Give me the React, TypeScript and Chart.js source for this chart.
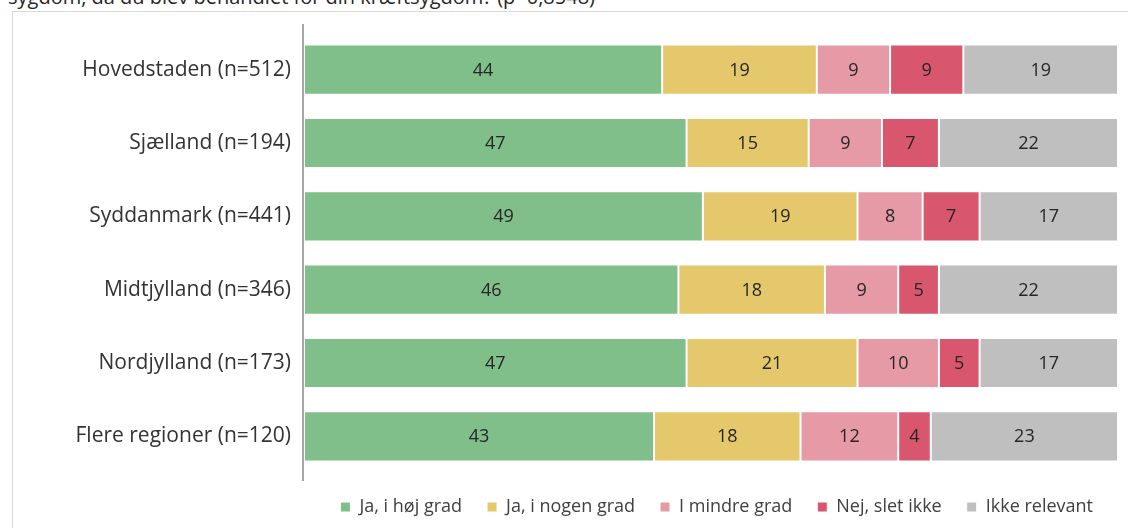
import React, { useEffect, useRef } from "react";
import { Chart, registerables } from "chart.js";

Chart.register(...registerables);

const titleText = "sygdom, da du blev behandlet for din kræftsygdom? (p=0,8548)";
const categories = [
  "Hovedstaden (n=512)",
  "Sjælland (n=194)",
  "Syddanmark (n=441)",
  "Midtjylland (n=346)",
  "Nordjylland (n=173)",
  "Flere regioner (n=120)",
];
const seriesNames = ["Ja, i høj grad", "Ja, i nogen grad", "I mindre grad", "Nej, slet ikke", "Ikke relevant"];
const jaHoej = [44, 47, 49, 46, 47, 43];
const jaNogen = [19, 15, 19, 18, 21, 18];
const mindre = [9, 9, 8, 9, 10, 12];
const nejSlet = [9, 7, 7, 5, 5, 4];
const ikkeRelevant = [19, 22, 17, 22, 17, 23];
const seriesValues = [jaHoej, jaNogen, mindre, nejSlet, ikkeRelevant];
const seriesColors = ["#80bf89", "#e5c76c", "#e59aa6", "#d9566f", "#bfbfbf"];

const FONT = "'Open Sans', 'Noto Sans', sans-serif";

const valueLabels = {
  id: "valueLabels",
  afterDatasetsDraw(chart: any) {
    const ctx = chart.ctx;
    ctx.save();
    ctx.font = `18px ${FONT}`;
    ctx.fillStyle = "#262626";
    ctx.textAlign = "center";
    ctx.textBaseline = "middle";
    chart.data.datasets.forEach((ds: any, i: number) => {
      const meta = chart.getDatasetMeta(i);
      if (meta.hidden) return;
      meta.data.forEach((el: any, j: number) => {
        const v = ds.data[j];
        const x = (el.x + el.base) / 2;
        ctx.fillText(String(v), x, el.y + 1);
      });
    });
    ctx.restore();
  },
};

const axisLine = {
  id: "axisLine",
  afterDraw(chart: any) {
    const { ctx, chartArea } = chart;
    ctx.save();
    ctx.strokeStyle = "#a6a6a6";
    ctx.lineWidth = 2;
    ctx.beginPath();
    ctx.moveTo(chartArea.left - 1, chartArea.top - 9);
    ctx.lineTo(chartArea.left - 1, chartArea.bottom + 8);
    ctx.stroke();
    ctx.restore();
  },
};

export default function App() {
  const ref = useRef<HTMLCanvasElement>(null);
  useEffect(() => {
    document.body.style.margin = "0";
    const chart = new Chart(ref.current!, {
      type: "bar",
      data: {
        labels: categories,
        datasets: seriesNames.map((name, i) => ({
          label: name,
          data: seriesValues[i],
          backgroundColor: seriesColors[i],
          borderColor: "#ffffff",
          borderWidth: 1,
          borderSkipped: false,
          barPercentage: 0.683,
          categoryPercentage: 1,
        })),
      },
      options: {
        indexAxis: "y",
        animation: false,
        responsive: false,
        layout: { padding: { left: 0, right: 10, top: 33, bottom: 2 } },
        scales: {
          x: { stacked: true, min: 0, max: 100, display: false },
          y: {
            stacked: true,
            grid: { display: false, drawTicks: false },
            border: { display: false },
            ticks: { padding: 13, color: "#333333", font: { family: FONT, size: 21 } },
            afterFit: (s: any) => {
              s.width = 304;
            },
          },
        },
        plugins: {
          legend: {
            position: "bottom",
            align: "end",
            labels: {
              boxWidth: 10,
              boxHeight: 10,
              padding: 25,
              color: "#404040",
              font: { family: FONT, size: 18 },
            },
          },
          tooltip: { enabled: false },
        },
      },
      plugins: [valueLabels, axisLine],
    });
    return () => chart.destroy();
  }, []);
  return (
    <div style={{ position: "relative", width: 1128, height: 528, overflow: "hidden", background: "#fff" }}>
      <div
        style={{
          position: "absolute",
          left: 8,
          top: -13,
          fontFamily: FONT,
          fontSize: 20,
          lineHeight: "20px",
          whiteSpace: "nowrap",
          color: "#262626",
        }}
      >
        {titleText}
      </div>
      <div
        style={{
          position: "absolute",
          left: 12,
          top: 11,
          width: 1200,
          height: 600,
          border: "1px solid #d9d9d9",
        }}
      />
      <canvas ref={ref} width={1128} height={528} style={{ position: "absolute", left: 0, top: 0 }} />
    </div>
  );
}
